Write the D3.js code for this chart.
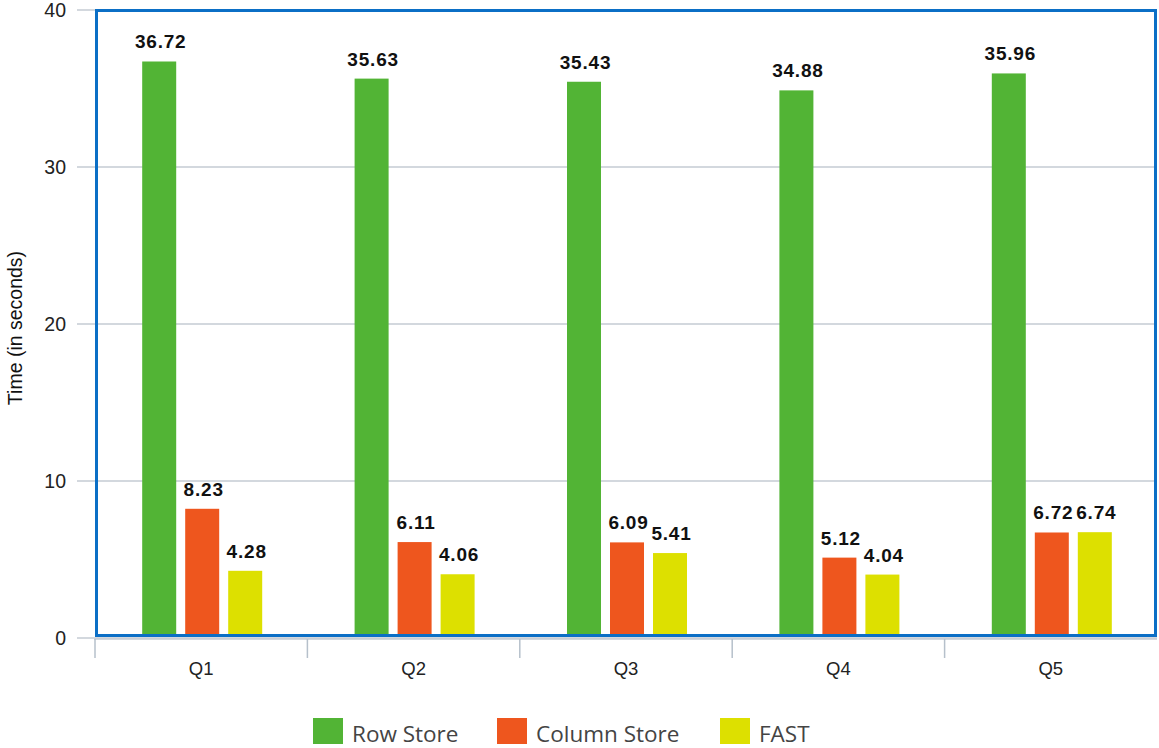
<!DOCTYPE html>
<html>
<head>
<meta charset="utf-8">
<script src="https://cdn.jsdelivr.net/npm/d3@7"></script>
<style>
  html, body { margin: 0; padding: 0; background: #fff; }
  svg { display: block; }
</style>
</head>
<body>
<svg id="chart" width="1159" height="748"></svg>
<script>
// Query timings per storage layout
const queries = ["Q1", "Q2", "Q3", "Q4", "Q5"];
const seriesNames = ["Row Store", "Column Store", "FAST"];
const rowStore = [36.72, 35.63, 35.43, 34.88, 35.96];
const columnStore = [8.23, 6.11, 6.09, 5.12, 6.72];
const fast = [4.28, 4.06, 5.41, 4.04, 6.74];
const yTicks = [0, 10, 20, 30, 40];
const colors = ["#52b435", "#ee561e", "#dde000"];

const seriesValues = [rowStore, columnStore, fast];

const svg = d3.select("#chart");
const plotLeft = 95, plotRight = 1157, plotTop = 10, plotBottom = 638;

const x = d3.scaleBand().domain(queries).range([plotLeft, plotRight]).paddingInner(0).paddingOuter(0);
const y = d3.scaleLinear().domain([0, 40]).range([plotBottom, plotTop]);

// bar slots inside each band
const barW = 34, barGap = 9;
const groupW = barW * 3 + barGap * 2;
const inner = d3.scaleBand().domain(seriesNames).range([0, groupW]).paddingInner(barGap / (barW + barGap)).paddingOuter(0);

// bars stop at the inner edge of the frame
svg.append("defs").append("clipPath").attr("id", "plot-clip")
  .append("rect")
  .attr("x", plotLeft).attr("y", 0)
  .attr("width", plotRight - plotLeft).attr("height", plotBottom - 3);

// horizontal gridlines
svg.append("g")
  .selectAll("line")
  .data(yTicks)
  .join("line")
  .attr("x1", 77).attr("x2", plotRight)
  .attr("y1", d => y(d)).attr("y2", d => y(d))
  .attr("stroke", "#c4cbd3").attr("stroke-width", 1.5);

// y tick labels
svg.append("g")
  .selectAll("text")
  .data(yTicks)
  .join("text")
  .attr("x", 66)
  .attr("y", d => y(d))
  .attr("dy", "0.36em")
  .attr("text-anchor", "end")
  .attr("font-family", "Liberation Sans, Arial, sans-serif")
  .attr("font-size", 19.5)
  .attr("fill", "#222")
  .text(d => d);

// y axis title
svg.append("text")
  .attr("transform", `translate(22, ${(plotTop + plotBottom) / 2 + 4}) rotate(-90)`)
  .attr("text-anchor", "middle")
  .attr("font-family", "Liberation Sans, Arial, sans-serif")
  .attr("font-size", 19.5)
  .attr("fill", "#111")
  .text("Time (in seconds)");

// bars
const barLayer = svg.append("g").attr("clip-path", "url(#plot-clip)");
const barGroups = barLayer
  .selectAll("g")
  .data(queries)
  .join("g")
  .attr("transform", q => `translate(${x(q) + (x.bandwidth() - groupW) / 2 + 1}, 0)`);

seriesNames.forEach((name, si) => {
  barGroups.append("rect")
    .attr("x", inner(name))
    .attr("width", inner.bandwidth())
    .attr("y", (q, i) => y(seriesValues[si][i]))
    .attr("height", (q, i) => y(0) - y(seriesValues[si][i]))
    .attr("fill", colors[si]);
});

// value labels
const labelGroups = svg.append("g")
  .selectAll("g")
  .data(queries)
  .join("g")
  .attr("transform", q => `translate(${x(q) + (x.bandwidth() - groupW) / 2 + 1}, 0)`);

seriesNames.forEach((name, si) => {
  labelGroups.append("text")
    .attr("x", inner(name) + inner.bandwidth() / 2 + 1.5)
    .attr("y", (q, i) => y(seriesValues[si][i]) - 13)
    .attr("text-anchor", "middle")
    .attr("font-family", "Liberation Sans, Arial, sans-serif")
    .attr("font-size", 19)
    .attr("font-weight", "bold")
    .attr("letter-spacing", "0.8px")
    .attr("fill", "#111")
    .text((q, i) => seriesValues[si][i].toFixed(2));
});

// plot frame
svg.append("rect")
  .attr("x", plotLeft + 1.5).attr("y", plotTop + 0.5)
  .attr("width", plotRight - plotLeft - 3).attr("height", plotBottom - plotTop - 3)
  .attr("fill", "none")
  .attr("stroke", "#0b6fc6")
  .attr("stroke-width", 3);

// x axis line and ticks
svg.append("line")
  .attr("x1", plotLeft - 1).attr("x2", plotRight)
  .attr("y1", plotBottom + 1).attr("y2", plotBottom + 1)
  .attr("stroke", "#c4cbd3").attr("stroke-width", 1.5);

svg.append("g")
  .selectAll("line")
  .data(queries)
  .join("line")
  .attr("x1", q => x(q)).attr("x2", q => x(q))
  .attr("y1", plotBottom + 1).attr("y2", plotBottom + 20)
  .attr("stroke", "#b6c0cb").attr("stroke-width", 1.5);

svg.append("g")
  .selectAll("text")
  .data(queries)
  .join("text")
  .attr("x", q => x(q) + x.bandwidth() / 2)
  .attr("y", 675)
  .attr("text-anchor", "middle")
  .attr("font-family", "Liberation Sans, Arial, sans-serif")
  .attr("font-size", 18.5)
  .attr("fill", "#222")
  .text(q => q);

// legend
const legendX = [313, 497, 720];
const legend = svg.append("g")
  .selectAll("g")
  .data(seriesNames)
  .join("g")
  .attr("transform", (d, i) => `translate(${legendX[i]}, 718)`);
legend.append("rect")
  .attr("width", 30).attr("height", 26)
  .attr("fill", (d, i) => colors[i]);
legend.append("text")
  .attr("x", 39).attr("y", 24)
  .attr("font-family", "Open Sans, DejaVu Sans, sans-serif")
  .attr("font-size", 22.5)
  .attr("fill", "#444")
  .text(d => d);
</script>
</body>
</html>
